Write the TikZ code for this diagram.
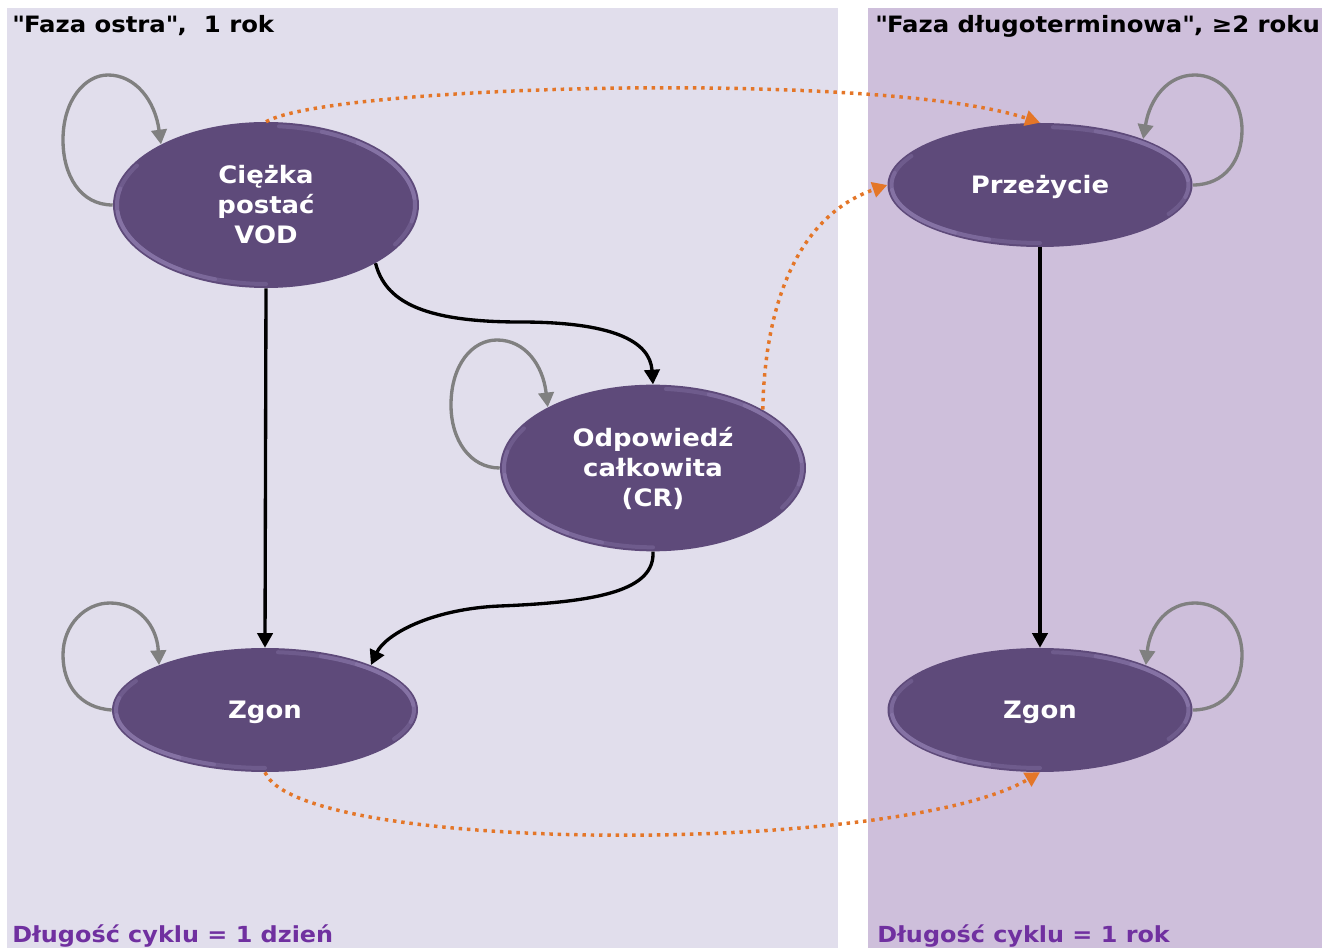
\documentclass[tikz,border=0pt]{standalone}
\usepackage{fontspec}
\setmainfont{DejaVu Sans}[FakeStretch=1.08]
\usetikzlibrary{shapes.geometric, arrows.meta, calc}
\definecolor{leftbg}{RGB}{225,222,236}
\definecolor{rightbg}{RGB}{206,191,219}
\definecolor{nodefill}{RGB}{94,74,122}
\definecolor{rimc}{RGB}{170,154,204}
\definecolor{orng}{RGB}{228,118,40}
\definecolor{labelpurple}{RGB}{112,48,160}
\definecolor{loopgray}{RGB}{128,128,128}
\tikzset{
  rimarc/.style={rimc, line width=3pt, opacity=0.22, line cap=round},
  state/.style={ellipse, fill=nodefill, text=white, align=center, inner sep=0pt,
    font=\bfseries\fontsize{18}{22.5}\selectfont,
    path picture={
      \foreach \a/\b in {150/270, 168/250, 185/235, -30/85, -12/68, 5/52}{
      \draw[rimarc]
        let \p1=($(path picture bounding box.north east)-(path picture bounding box.center)$),
            \n1={\x1-3pt}, \n2={\y1-3pt} in
        ($(path picture bounding box.center)+({\n1*cos(\a)},{\n2*sin(\a)})$)
          arc[start angle=\a, end angle=\b, x radius=\n1, y radius=\n2];}}},
  onelinestate/.style={state, text height=13pt, text depth=0pt},
  solidarrow/.style={draw=black, line width=2.5pt, -{Triangle[width=11.5pt,length=11pt]}},
  selfloop/.style={draw=loopgray, line width=2.5pt, -{Triangle[width=11.5pt,length=11pt]}},
  phasearrow/.style={draw=orng, line width=2.6pt, dash pattern=on 2.6pt off 3.6pt, -{Triangle[width=11.5pt,length=11pt]}},
  heading/.style={anchor=base west, inner sep=0pt, font=\bfseries\fontsize{16.9}{18}\selectfont},
  cyclelabel/.style={anchor=base west, inner sep=0pt, text=labelpurple, font=\bfseries\fontsize{16.6}{18}\selectfont},
}
\begin{document}
\begin{tikzpicture}[x=0.75pt, y=-0.75pt]
\useasboundingbox (0,0) rectangle (1322,948);
\fill[white] (0,0) rectangle (1322,948);
\fill[leftbg] (7,8) rectangle (838,948);
\fill[rightbg] (868,8) rectangle (1322,948);

\node[heading] (t1) at (12,33) {\textquotedbl Faza ostra\textquotedbl,\ \ 1 rok};
\node[heading] (t2) at (875,33) {\textquotedbl Faza długoterminowa\textquotedbl, ≥2 roku};
\node[cyclelabel] (b1) at (12,942) {Długość cyklu = 1 dzień};
\node[cyclelabel] (b2) at (877,942) {Długość cyklu = 1 rok};

\node[state, minimum width=229.5pt, minimum height=124.5pt] (vod) at (266,205) {Ciężka\\postać\\VOD};
\node[onelinestate, minimum width=229.5pt, minimum height=93pt] (zgonA) at (265,710) {Zgon};
\node[state, minimum width=229.5pt, minimum height=125pt] (cr) at (653,468) {Odpowiedź\\całkowita\\(CR)};
\node[onelinestate, minimum width=228.75pt, minimum height=93pt] (przez) at (1040,185) {Przeżycie};
\node[onelinestate, minimum width=228.75pt, minimum height=93pt] (zgonB) at (1040,710) {Zgon};

% self loops
\draw[selfloop] (vod.180) .. controls (80,205) and (63,175) .. (63,140)
  .. controls (63,100) and (85,75) .. (108,75)
  .. controls (135,75) and (155,100) .. (vod.150);
\draw[selfloop] (zgonA.180) .. controls (80,708) and (63,685) .. (63,655)
  .. controls (63,625) and (85,603) .. (110,603)
  .. controls (138,603) and (157,625) .. (zgonA.157);
\draw[selfloop] (cr.180) .. controls (470,468) and (451,440) .. (451,405)
  .. controls (451,365) and (472,340) .. (497,340)
  .. controls (525,340) and (543,365) .. (cr.150);
\draw[selfloop] (przez.0) .. controls (1225,185) and (1242,160) .. (1242,130)
  .. controls (1242,98) and (1220,75) .. (1195,75)
  .. controls (1168,75) and (1150,98) .. (przez.24);
\draw[selfloop] (zgonB.0) .. controls (1225,710) and (1242,685) .. (1242,655)
  .. controls (1242,623) and (1220,603) .. (1195,603)
  .. controls (1168,603) and (1150,625) .. (zgonB.23);

% transitions
\draw[solidarrow] (vod.south) -- (zgonA.north);
\draw[solidarrow] (vod.-28) .. controls (385,300) and (420,322) .. (520,322)
  .. controls (610,322) and (650,340) .. (cr.north);
\draw[solidarrow] (cr.south) .. controls (655,590) and (600,602) .. (500,606)
  .. controls (430,609) and (385,635) .. (zgonA.23);
\draw[solidarrow] (przez.south) -- (zgonB.north);

% phase transitions
\draw[phasearrow] (vod.north) .. controls (330,85) and (880,70) .. (przez.north);
\draw[phasearrow] (cr.28) .. controls (765,300) and (800,215) .. (przez.180);
\draw[phasearrow] (zgonA.south) .. controls (300,855) and (900,855) .. (zgonB.south);
\end{tikzpicture}
\end{document}
